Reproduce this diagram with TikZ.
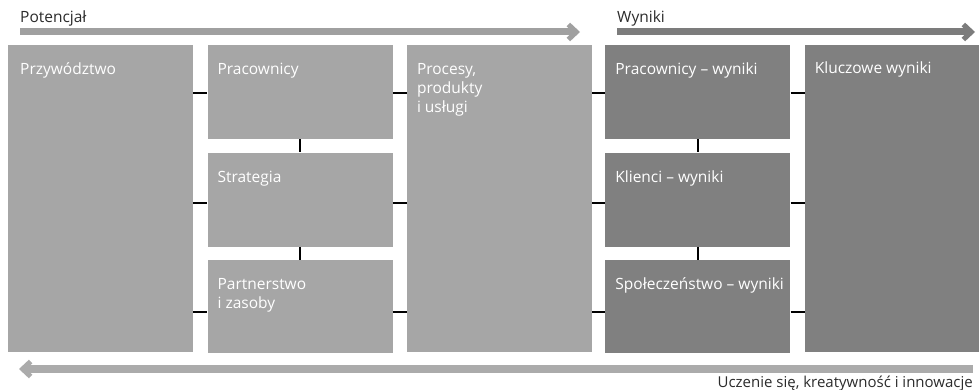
\documentclass[tikz,border=0pt]{standalone}
\usepackage{fontspec}
\setmainfont{Open Sans}
\usetikzlibrary{arrows.meta,positioning}

\definecolor{lightbox}{HTML}{A6A6A6}
\definecolor{darkbox}{HTML}{808080}
\definecolor{lightarr}{HTML}{A0A0A0}
\definecolor{darkarr}{HTML}{7C7C7C}
\definecolor{lowerarr}{HTML}{ABABAB}
\definecolor{headtxt}{HTML}{2B2B2B}

\begin{document}
\begin{tikzpicture}[
  x=1pt, y=1pt,
  node distance=14pt,
  potbox/.style={fill=lightbox, draw=none, inner sep=0pt, minimum width=185pt},
  wynbox/.style={fill=darkbox, draw=none, inner sep=0pt, minimum width=185pt},
  boxtxt/.style={anchor=base west, inner sep=0pt, text=white, align=left,
                 font=\fontsize{15.5}{19}\selectfont},
  headlbl/.style={anchor=base west, inner sep=0pt, text=headtxt,
                  font=\fontsize{15.5}{17}\selectfont},
  conn/.style={draw=black, line width=2pt},
  bigarr/.style={line width=7pt, -{Straight Barb[length=8pt, width=15pt, line width=5pt]}}
]
\useasboundingbox (0,0) rectangle (979,-390);

% potential side
\node[potbox, minimum height=307pt, anchor=north west] (przyw) at (8,-45) {};
\node[potbox, minimum height=94pt, right=14pt of przyw.north east, anchor=north west] (prac) {};
\node[potbox, minimum height=94pt, below=13pt of prac.south west, anchor=north west] (strat) {};
\node[potbox, minimum height=93pt, below=13pt of strat.south west, anchor=north west] (partn) {};
\node[potbox, minimum height=307pt, right=14pt of prac.north east, anchor=north west] (proc) {};

% results side
\node[wynbox, minimum height=94pt, right=13pt of proc.north east, anchor=north west] (pracw) {};
\node[wynbox, minimum height=94pt, below=13pt of pracw.south west, anchor=north west] (klientw) {};
\node[wynbox, minimum height=93pt, below=13pt of klientw.south west, anchor=north west] (spolw) {};
\node[wynbox, minimum height=307pt, minimum width=177pt, right=14pt of pracw.north east, anchor=north west] (klucz) {};

% texts in boxes (base = last line)
\node[boxtxt] (t-przyw) at ([shift={(12,-30)}]przyw.north west) {Przywództwo};
\node[boxtxt] (t-prac) at ([shift={(10,-30)}]prac.north west) {Pracownicy};
\node[boxtxt] (t-strat) at ([shift={(10,-30)}]strat.north west) {Strategia};
\node[boxtxt] (t-partn) at ([shift={(10,-49)}]partn.north west) {Partnerstwo\\i zasoby};
\node[boxtxt] (t-proc) at ([shift={(10,-68)}]proc.north west) {Procesy,\\produkty\\i usługi};
\node[boxtxt] (t-pracw) at ([shift={(10,-30)}]pracw.north west) {Pracownicy -- wyniki};
\node[boxtxt] (t-klientw) at ([shift={(10,-30)}]klientw.north west) {Klienci -- wyniki};
\node[boxtxt] (t-spolw) at ([shift={(10,-30)}]spolw.north west) {Społeczeństwo -- wyniki};
\node[boxtxt] (t-klucz) at ([shift={(10,-29)}]klucz.north west) {Kluczowe wyniki};

% connector heights
\coordinate (r1) at (0,-93);
\coordinate (r2) at (0,-203);
\coordinate (r3) at (0,-312);

\foreach \r in {r1,r2,r3} {
  \draw[conn] (\r -| przyw.east) -- (\r -| prac.west);
  \draw[conn] (\r -| prac.east) -- (\r -| proc.west);
  \draw[conn] (\r -| proc.east) -- (\r -| pracw.west);
  \draw[conn] (\r -| pracw.east) -- (\r -| klucz.west);
}
\draw[conn] (prac.south) -- (strat.north);
\draw[conn] (strat.south) -- (partn.north);
\draw[conn] (pracw.south) -- (klientw.north);
\draw[conn] (klientw.south) -- (spolw.north);

% header arrows
\node[headlbl] (potlbl) at (20,-23) {Potencjał};
\node[headlbl] (wynlbl) at (617,-23) {Wyniki};
\coordinate (pot-end) at (580,-32);
\coordinate (wyn-end) at (975,-32);
\draw[bigarr, draw=lightarr] (potlbl.base west |- pot-end) -- (pot-end);
\draw[bigarr, draw=darkarr] (wynlbl.base west |- wyn-end) -- (wyn-end);

% learning arrow
\node[anchor=base east, inner sep=0pt, text=headtxt, font=\fontsize{15}{17}\selectfont]
  (learn) at (973,-387) {Uczenie się, kreatywność i innowacje};
\coordinate (learn-end) at (19,-369);
\draw[bigarr, draw=lowerarr, line width=8pt] (learn.east |- learn-end) -- (learn-end);
\end{tikzpicture}
\end{document}
